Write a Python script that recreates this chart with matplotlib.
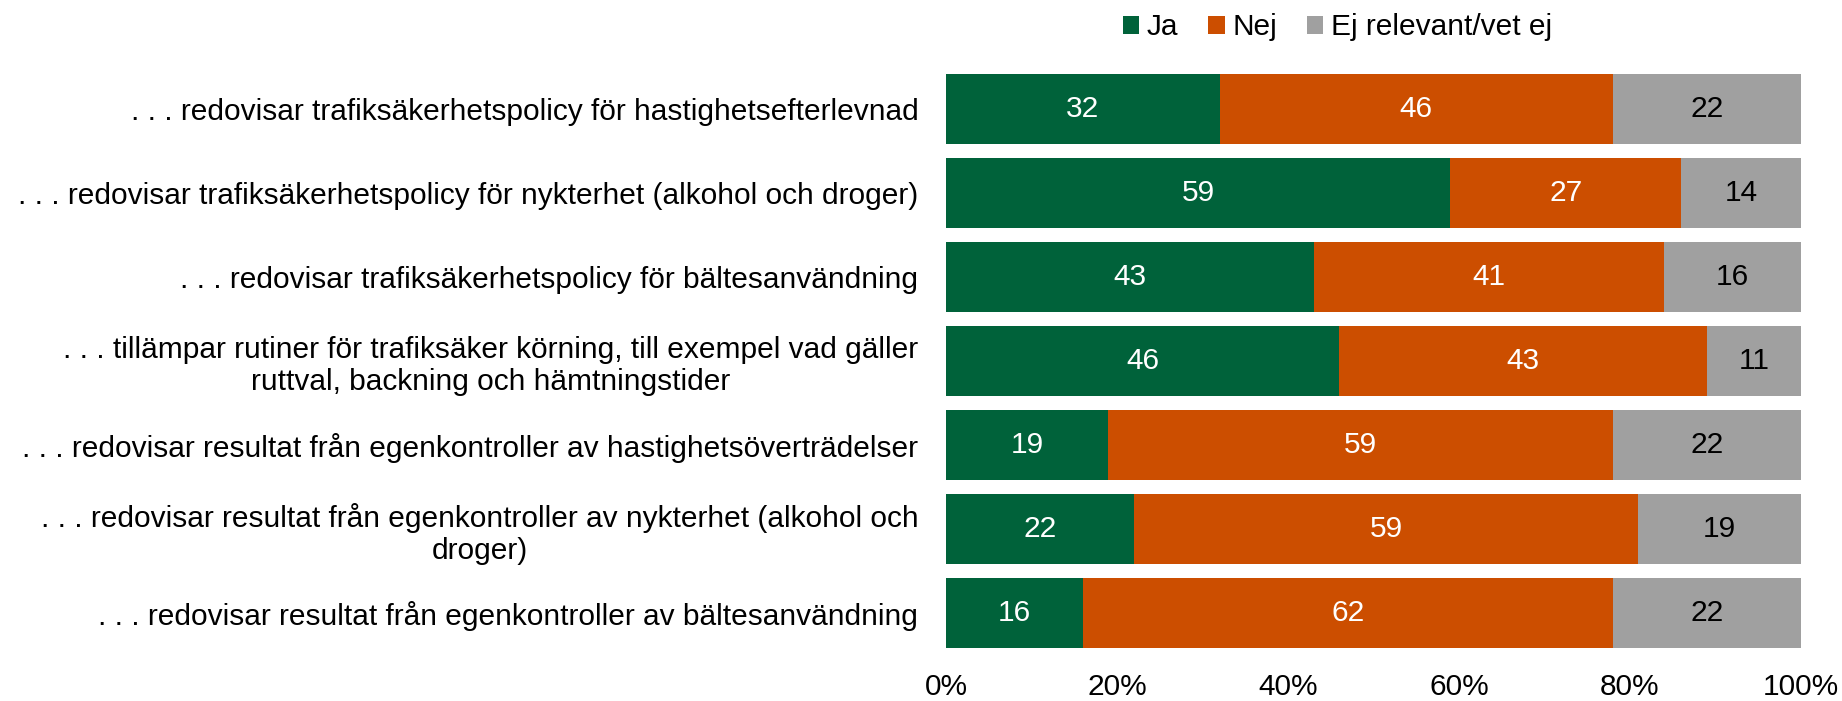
import matplotlib
matplotlib.use("Agg")
import matplotlib.pyplot as plt
import numpy as np

plt.rcParams['font.family'] = ['Liberation Sans', 'DejaVu Sans']

categories = [
    ". . . redovisar trafiksäkerhetspolicy för hastighetsefterlevnad",
    ". . . redovisar trafiksäkerhetspolicy för nykterhet (alkohol och droger)",
    ". . . redovisar trafiksäkerhetspolicy för bältesanvändning",
    ". . . tillämpar rutiner för trafiksäker körning, till exempel vad gäller\nruttval, backning och hämtningstider",
    ". . . redovisar resultat från egenkontroller av hastighetsöverträdelser",
    ". . . redovisar resultat från egenkontroller av nykterhet (alkohol och\ndroger)",
    ". . . redovisar resultat från egenkontroller av bältesanvändning",
]
ja = [32, 59, 43, 46, 19, 22, 16]
nej = [46, 27, 41, 43, 59, 59, 62]
ej = [22, 14, 16, 11, 22, 19, 22]
series_names = ["Ja", "Nej", "Ej relevant/vet ej"]
colors = ["#00623A", "#CC4E00", "#A0A0A0"]
text_colors = ["white", "white", "black"]
xticks = [0, 20, 40, 60, 80, 100]
xticklabels = ["0%", "20%", "40%", "60%", "80%", "100%"]

FS = 21.5

fig = plt.figure(figsize=(18.42, 7.01), dpi=100)
ax = fig.add_axes([0.5136, 0.066, 0.4641, 0.838])

y = np.arange(len(categories))
left = np.zeros(len(categories))
handles = []
for vals, name, c, tc in zip([ja, nej, ej], series_names, colors, text_colors):
    vals = np.array(vals, dtype=float)
    b = ax.barh(y, vals, left=left, height=0.83, color=c, label=name, edgecolor='none')
    handles.append(b)
    for yi, v, l in zip(y, vals, left):
        ax.text(l + v / 2, yi, f"{int(v)}", ha='center', va='center', color=tc, fontsize=FS)
    left += vals

ax.set_xlim(0, 100)
ax.set_ylim(len(categories) - 0.5, -0.5)
ax.set_yticks(y)
ax.set_yticklabels(categories, fontsize=FS, multialignment='center')
ax.set_xticks(xticks)
ax.set_xticklabels(xticklabels, fontsize=FS)
ax.tick_params(axis='both', length=0)
ax.tick_params(axis='y', pad=20)
ax.tick_params(axis='x', pad=13)
for s in ax.spines.values():
    s.set_visible(False)

fig.legend(handles=handles, labels=series_names, loc='center', bbox_to_anchor=(0.726, 0.961),
           ncol=3, frameon=False, fontsize=FS, handlelength=0.55, handleheight=0.55,
           handletextpad=0.25, columnspacing=1.0)

fig.savefig("out.png", dpi=100)
